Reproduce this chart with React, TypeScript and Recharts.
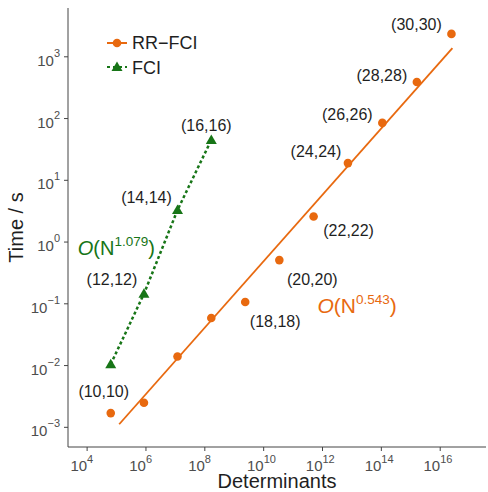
import React from "react";
import { ScatterChart, Scatter, XAxis, YAxis } from "recharts";

const ORANGE = "#E8690F";
const GREEN = "#177517";
const TEXT = "#1f1f1f";
const TICK = "#4d4d4d";
const FONT = "'Liberation Sans', Arial, Helvetica, sans-serif";

// active spaces (n electrons, n orbitals)
const spaces = ["(10,10)", "(12,12)", "(14,14)", "(16,16)", "(18,18)", "(20,20)", "(22,22)", "(24,24)", "(26,26)", "(28,28)", "(30,30)"];
const determinants = [6.35e4, 8.54e5, 1.18e7, 1.66e8, 2.36e9, 3.41e10, 4.98e11, 7.31e12, 1.08e14, 1.61e15, 2.41e16];
const rrFciTimes = [0.0017, 0.0025, 0.014, 0.059, 0.107, 0.51, 2.6, 19, 85, 390, 2350];
const fciTimes = [0.0105, 0.145, 3.3, 45];

// fitted power law end points
const fitDeterminants = [1.23e5, 2.6e16];
const fitTimes = [0.00112, 1380];

const xTicks = [1e4, 1e6, 1e8, 1e10, 1e12, 1e14, 1e16];
const yTicks = [1e-3, 1e-2, 1e-1, 1, 1e1, 1e2, 1e3];

const annotations = [
  { x: 9.8e4, y: 0.8, base: "1.079", color: GREEN, size: 20 },
  { x: 1.5e13, y: 0.091, base: "0.543", color: ORANGE, size: 21 },
];

// label placement around a point (dx, dy to label centre)
const rrLabelOffsets: Record<string, [number, number]> = {
  "(10,10)": [-7, -22],
  "(18,18)": [30, 20],
  "(20,20)": [33, 19],
  "(22,22)": [35, 14],
  "(24,24)": [-32, -12],
  "(26,26)": [-35, -8],
  "(28,28)": [-35, -7],
  "(30,30)": [-35, -9],
};
const fciLabelOffsets: Record<string, [number, number]> = {
  "(12,12)": [-32, -14],
  "(14,14)": [-31, -13],
  "(16,16)": [-5, -14],
};

const rrData = determinants.map((d, i) => ({ x: d, y: rrFciTimes[i], label: spaces[i] }));
const fciData = fciTimes.map((t, i) => ({ x: determinants[i], y: t, label: spaces[i] }));
const fitData = fitDeterminants.map((d, i) => ({ x: d, y: fitTimes[i] }));

const PowerTick = (props: any) => {
  const { x, y, payload, axis } = props;
  const e = Math.round(Math.log10(payload.value));
  const exp = e < 0 ? `\u2212${-e}` : `${e}`;
  if (axis === "x") {
    return (
      <g fill={TICK} fontFamily={FONT}>
        <text x={x} y={y + 18} textAnchor="end" fontSize={15}>10</text>
        <text x={x} y={y + 10} textAnchor="start" fontSize={11}>{exp}</text>
      </g>
    );
  }
  return (
    <text x={x - 2} y={y} textAnchor="end" fill={TICK} fontFamily={FONT} fontSize={15}>
      <tspan dy={9}>10</tspan>
      <tspan dy={-9} fontSize={11}>{exp}</tspan>
    </text>
  );
};

const pointLabel = (cx: number, cy: number, label: string, offsets: Record<string, [number, number]>) => {
  const off = offsets[label];
  if (!off) return null;
  return (
    <text x={cx + off[0]} y={cy + off[1] + 5.5} textAnchor="middle" fill={TEXT} fontFamily={FONT} fontSize={16}>
      {label}
    </text>
  );
};

const RrDot = (props: any) => {
  const { cx, cy, payload } = props;
  return (
    <g>
      <circle cx={cx} cy={cy} r={4.3} fill={ORANGE} />
      {pointLabel(cx, cy, payload.label, rrLabelOffsets)}
    </g>
  );
};

const FciTriangle = (props: any) => {
  const { cx, cy, payload } = props;
  return (
    <g>
      <polygon points={`${cx},${cy - 5.5} ${cx + 5.5},${cy + 4} ${cx - 5.5},${cy + 4}`} fill={GREEN} />
      {pointLabel(cx, cy, payload.label, fciLabelOffsets)}
    </g>
  );
};

const Annotation = (props: any) => {
  const { cx, cy, payload } = props;
  const s = payload.size;
  return (
    <text x={cx} y={cy + 7} textAnchor="middle" fill={payload.color} fontFamily={FONT} fontSize={s}>
      <tspan fontStyle="italic">O</tspan>
      <tspan>(N</tspan>
      <tspan dy={-9} fontSize={13.5}>{payload.base}</tspan>
      <tspan dy={9}>)</tspan>
    </text>
  );
};

const Legend = () => (
  <svg width={120} height={60} style={{ position: "absolute", left: 100, top: 25 }}>
    <line x1={7} x2={27} y1={18} y2={18} stroke={ORANGE} strokeWidth={2} />
    <circle cx={17} cy={18} r={4.3} fill={ORANGE} />
    <text x={32} y={24} fill={TEXT} fontFamily={FONT} fontSize={18}>RR−FCI</text>
    <line x1={7} x2={27} y1={42} y2={42} stroke={GREEN} strokeWidth={2} strokeDasharray="3 3" />
    <polygon points="17,36.5 22.5,46 11.5,46" fill={GREEN} />
    <text x={32} y={49} fill={TEXT} fontFamily={FONT} fontSize={18}>FCI</text>
  </svg>
);

export default function App() {
  return (
    <div style={{ position: "absolute", left: 0, top: 0, width: 488, height: 492, background: "#fff" }}>
      <ScatterChart width={488} height={492} margin={{ top: 8, right: 2, left: 0, bottom: 0 }}>
        <XAxis
          dataKey="x"
          type="number"
          scale="log"
          domain={[2240, 3.6e17]}
          ticks={xTicks}
          interval={0}
          height={45}
          tickSize={4}
          axisLine={{ stroke: "#444" }}
          tickLine={{ stroke: "#444" }}
          tick={<PowerTick axis="x" />}
          allowDataOverflow
          label={({ viewBox }: any) => (
            <text x={viewBox.x + viewBox.width / 2} y={488} textAnchor="middle" fill={TEXT} fontFamily={FONT} fontSize={20}>
              Determinants
            </text>
          )}
        />
        <YAxis
          dataKey="y"
          type="number"
          scale="log"
          domain={[4.8e-4, 6170]}
          ticks={yTicks}
          interval={0}
          width={68}
          tickSize={4}
          axisLine={{ stroke: "#444" }}
          tickLine={{ stroke: "#444" }}
          tick={<PowerTick axis="y" />}
          allowDataOverflow
          label={({ viewBox }: any) => {
            const cy = viewBox.y + viewBox.height / 2;
            return (
              <text x={23} y={cy} transform={`rotate(-90 23 ${cy})`} textAnchor="middle" fill={TEXT} fontFamily={FONT} fontSize={20}>
                Time / s
              </text>
            );
          }}
        />
        <Scatter data={fitData} line={{ stroke: ORANGE, strokeWidth: 1.8 }} lineType="joint" shape={() => <g />} isAnimationActive={false} />
        <Scatter data={fciData} line={{ stroke: GREEN, strokeWidth: 2.5, strokeDasharray: "3 2.5" }} lineType="joint" shape={<FciTriangle />} isAnimationActive={false} />
        <Scatter data={rrData} shape={<RrDot />} isAnimationActive={false} />
        <Scatter data={annotations} shape={<Annotation />} isAnimationActive={false} />
      </ScatterChart>
      <Legend />
    </div>
  );
}
